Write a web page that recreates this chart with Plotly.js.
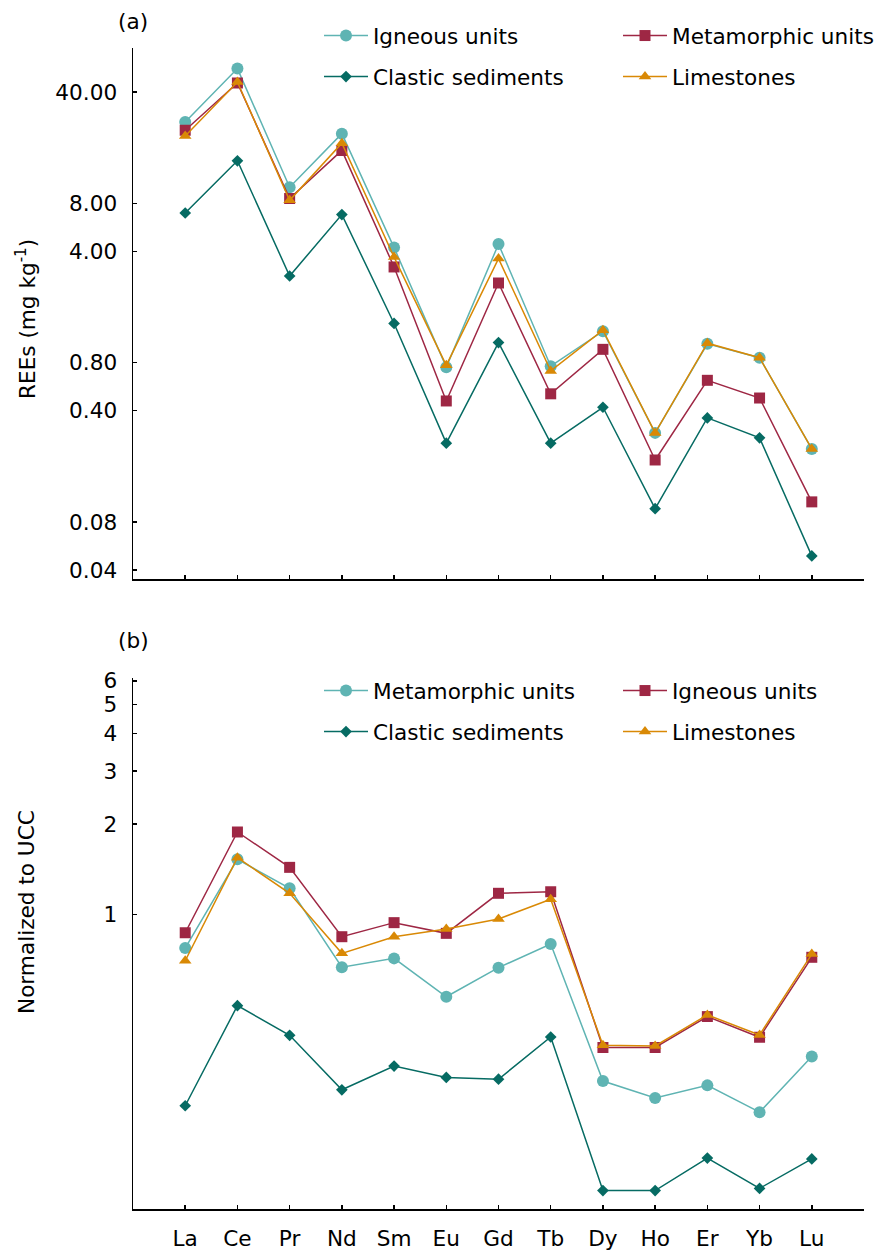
<!DOCTYPE html>
<html><head><meta charset="utf-8">
<script src="https://cdn.plot.ly/plotly-3.0.1.min.js"></script>
<style>html,body{margin:0;padding:0;background:#fff}</style>
</head><body><div id="chart" style="width:892px;height:1251px"></div>
<script>
// Tick labels / categories
const elements = ['La','Ce','Pr','Nd','Sm','Eu','Gd','Tb','Dy','Ho','Er','Yb','Lu'];

// Panel (a): REE concentrations (mg kg-1)
const aIgneous     = [25.9, 56.1, 10.1, 21.9, 4.22, 0.75, 4.44, 0.76, 1.26, 0.29, 1.05, 0.86, 0.23];
const aMetamorphic = [23.0, 45.6, 8.57, 17.2, 3.19, 0.46, 2.53, 0.51, 0.97, 0.196, 0.62, 0.48, 0.107];
const aClastic     = [6.96, 14.8, 2.80, 6.80, 1.41, 0.25, 1.07, 0.25, 0.42, 0.097, 0.36, 0.27, 0.049];
const aLimestones  = [21.2, 46.2, 8.36, 19.1, 3.68, 0.77, 3.60, 0.71, 1.28, 0.29, 1.06, 0.86, 0.23];

// Panel (b): normalized to UCC
const bMetamorphic = [0.772, 1.525, 1.221, 0.666, 0.713, 0.531, 0.664, 0.796, 0.278, 0.244, 0.269, 0.219, 0.336];
const bIgneous     = [0.868, 1.881, 1.434, 0.842, 0.938, 0.864, 1.175, 1.189, 0.360, 0.360, 0.456, 0.389, 0.719];
const bClastic     = [0.230, 0.496, 0.395, 0.260, 0.312, 0.286, 0.282, 0.390, 0.120, 0.120, 0.154, 0.122, 0.153];
const bLimestones  = [0.700, 1.544, 1.175, 0.741, 0.842, 0.893, 0.965, 1.122, 0.366, 0.364, 0.462, 0.396, 0.737];

// Axis ticks
const aTickVals = [0.04, 0.08, 0.4, 0.8, 4, 8, 40];
const aTickText = ['0.04', '0.08', '0.40', '0.80', '4.00', '8.00', '40.00'];
const bTickVals = [1, 2, 3, 4, 5, 6];
const bTickText = ['1', '2', '3', '4', '5', '6'];

const W = 892, H = 1251;
const FONT = 'DejaVu Sans';
const FS = 21.6;
const cCircle = '#5fb4b3', cSquare = '#9e2744', cDiamond = '#066b63', cTri = '#d98905';

const idx = elements.map((_, i) => i);
const xTickVals = [-1].concat(idx, [elements.length]);
const xTickTextA = xTickVals.map(() => '');
const xTickTextB = [''].concat(elements, ['']);

function tr(y, name, color, symbol, size, xa, ya, leg, lw) {
  return {x: idx, y: y, name: name, xaxis: xa, yaxis: ya, legend: leg, legendwidth: lw,
    mode: 'lines+markers', line: {color: color, width: 1.5},
    marker: {symbol: symbol, size: size, color: color, line: {width: 0}},
    hoverinfo: 'skip'};
}

const data = [
  tr(aIgneous, 'Igneous units', cCircle, 'circle', 12, 'x', 'y', 'legend', 240),
  tr(aMetamorphic, 'Metamorphic units', cSquare, 'square', 11, 'x', 'y', 'legend', 200),
  tr(aClastic, 'Clastic sediments', cDiamond, 'diamond', 9, 'x', 'y', 'legend2', 240),
  tr(aLimestones, 'Limestones', cTri, 'triangle-up', 11, 'x', 'y', 'legend2', 200),
  tr(bMetamorphic, 'Metamorphic units', cCircle, 'circle', 12, 'x2', 'y2', 'legend3', 240),
  tr(bIgneous, 'Igneous units', cSquare, 'square', 11, 'x2', 'y2', 'legend3', 200),
  tr(bClastic, 'Clastic sediments', cDiamond, 'diamond', 9, 'x2', 'y2', 'legend4', 240),
  tr(bLimestones, 'Limestones', cTri, 'triangle-up', 11, 'x2', 'y2', 'legend4', 200)
];

const xDom = [133 / W, 864 / W];
const yDomA = [(H - 579) / H, (H - 48.3) / H];
const yDomB = [(H - 1209.3) / H, (H - 678.3) / H];

const axBase = {showline: true, linecolor: '#000', linewidth: 1.5, ticks: 'inside',
  ticklen: 4, tickwidth: 1.5, tickcolor: '#000', showgrid: false, zeroline: false,
  automargin: false,
  tickfont: {family: FONT, size: FS, color: '#000'}, fixedrange: true};

function legendAt(x, yPx) {
  return {x: x / W, xanchor: 'left', y: (H - yPx) / H, yanchor: 'middle',
    orientation: 'h', itemwidth: 44, bgcolor: 'rgba(0,0,0,0)',
    borderwidth: 0, font: {family: FONT, size: FS, color: '#000'}, traceorder: 'normal'};
}

const layout = {
  width: W, height: H, margin: {l: 0, r: 0, t: 0, b: 0, autoexpand: false},
  paper_bgcolor: '#fff', plot_bgcolor: '#fff',
  font: {family: FONT, size: FS, color: '#000'},
  showlegend: true,
  xaxis: Object.assign({}, axBase, {domain: xDom, anchor: 'y', range: [-1, elements.length],
    tickmode: 'array', tickvals: xTickVals, ticktext: xTickTextA, showticklabels: false}),
  yaxis: Object.assign({}, axBase, {domain: yDomA, anchor: 'x', type: 'log',
    range: [Math.log10(0.0351), Math.log10(75.2)], tickmode: 'array',
    tickvals: aTickVals, ticktext: aTickText, ticklabelstandoff: 10}),
  xaxis2: Object.assign({}, axBase, {domain: xDom, anchor: 'y2', range: [-1, elements.length],
    tickmode: 'array', tickvals: xTickVals, ticktext: xTickTextB, ticklabelstandoff: 9}),
  yaxis2: Object.assign({}, axBase, {domain: yDomB, anchor: 'x2', type: 'log',
    range: [Math.log10(0.1039), Math.log10(6.12)], tickmode: 'array',
    tickvals: bTickVals, ticktext: bTickText, ticklabelstandoff: 10}),
  legend: legendAt(319, 36),
  legend2: legendAt(319, 77),
  legend3: legendAt(319, 691),
  legend4: legendAt(319, 732),
  annotations: [
    {text: '(a)', xref: 'paper', yref: 'paper', x: 133 / W, y: (H - 22) / H,
      xanchor: 'center', yanchor: 'middle', showarrow: false, font: {family: FONT, size: FS, color: '#000'}},
    {text: '(b)', xref: 'paper', yref: 'paper', x: 133 / W, y: (H - 640) / H,
      xanchor: 'center', yanchor: 'middle', showarrow: false, font: {family: FONT, size: FS, color: '#000'}},
    {text: 'REEs (mg kg<sup>-1</sup>)', xref: 'paper', yref: 'paper', x: 26 / W, y: (H - 319) / H,
      xanchor: 'center', yanchor: 'middle', textangle: -90, showarrow: false,
      font: {family: FONT, size: FS, color: '#000'}},
    {text: 'Normalized to UCC', xref: 'paper', yref: 'paper', x: 26 / W, y: (H - 912) / H,
      xanchor: 'center', yanchor: 'middle', textangle: -90, showarrow: false,
      font: {family: FONT, size: FS, color: '#000'}}
  ]
};

Plotly.newPlot('chart', data, layout, {staticPlot: true, displayModeBar: false});
</script></body></html>
